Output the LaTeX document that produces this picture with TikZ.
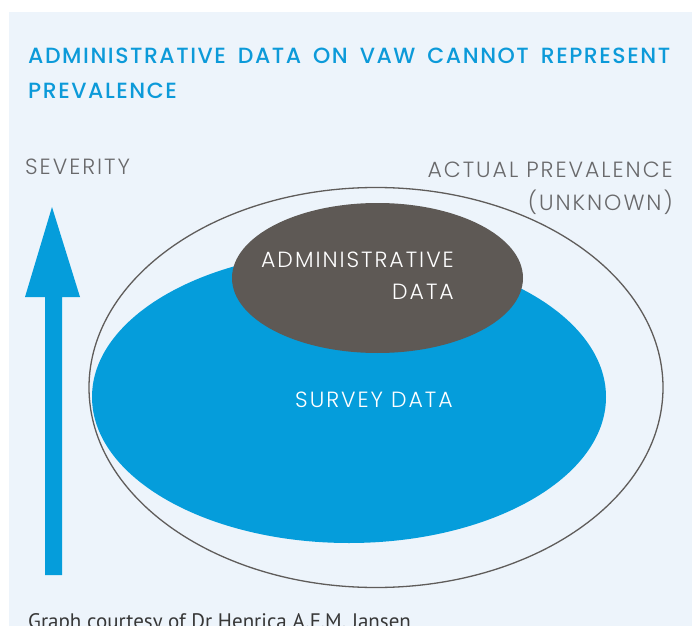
\documentclass[tikz,border=0pt]{standalone}
\usepackage{fontspec}
\setmainfont{Poppins}
\newfontfamily\lightfont[LetterSpace=9]{Poppins Light}
\newfontfamily\medfont[LetterSpace=7]{Poppins Medium}
\newfontfamily\creditfont{PT Sans}
\usetikzlibrary{shapes.geometric}
\definecolor{bgpanel}{RGB}{237,244,251}
\definecolor{surveyblue}{RGB}{5,157,219}
\definecolor{admingray}{RGB}{94,89,85}
\definecolor{labelgray}{RGB}{105,105,107}
\definecolor{titleblue}{RGB}{12,154,217}
\definecolor{outline}{RGB}{95,92,90}
\definecolor{credit}{RGB}{55,55,55}
\tikzset{
  blob/.style={ellipse, inner sep=0pt, outer sep=0pt},
  lbl/.style={inner sep=0pt, font=\lightfont\fontsize{22}{23}\selectfont},
  ttl/.style={inner sep=0pt, text=titleblue, font=\medfont\fontsize{22}{23}\selectfont},
}
\begin{document}
\begin{tikzpicture}[x=1pt,y=-1pt]
\useasboundingbox (0,0) rectangle (697,626);
\clip (0,0) rectangle (697,626);
\fill[bgpanel] (9,12) rectangle (692,626);
% title
\node[ttl, anchor=base west] (t1) at (28,64) {\makebox[642pt][s]{ADMINISTRATIVE DATA ON VAW CANNOT REPRESENT}};
\node[ttl, anchor=base west] (t2) at (28,99) {PREVALENCE};
% labels
\node[lbl, text=labelgray, anchor=base west] (sev) at (25,174) {SEVERITY};
\node[lbl, text=labelgray, anchor=base east] (act) at (673,177) {ACTUAL PREVALENCE};
\node[lbl, text=labelgray, anchor=base east] (unk) at (673,210) {(UNKNOWN)};
% arrow
\fill[surveyblue] (52,207) -- (80,297) -- (62,297) -- (62,575) -- (45,575) -- (45,297) -- (25,297) -- cycle;
% ellipses
\node[blob, fill=surveyblue, minimum width=514pt, minimum height=292pt] (survey) at (349,397) {};
\node[blob, fill=admingray, minimum width=291pt, minimum height=150pt] (admin) at (377.5,278) {};
\node[blob, draw=outline, line width=1.3pt, minimum width=574pt, minimum height=400pt] (outer) at (376,387.5) {};
% ellipse labels
\node[lbl, text=white, anchor=base east] (adm1) at (454,267) {ADMINISTRATIVE};
\node[lbl, text=white, anchor=base east] (adm2) at (454,299) {DATA};
\node[lbl, text=white, anchor=base] (sur) at (374,407) {SURVEY DATA};
% credit
\node[inner sep=0pt, anchor=base west, text=credit, font=\creditfont\fontsize{21}{22}\selectfont] (cred) at (28,628) {Graph courtesy of Dr Henrica A.F.M. Jansen};
\end{tikzpicture}
\end{document}
